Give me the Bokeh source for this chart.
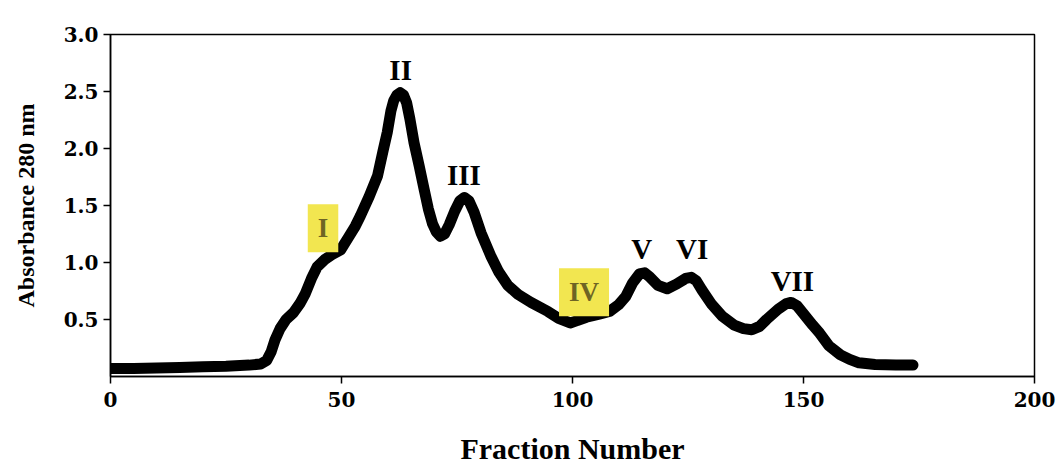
from bokeh.plotting import figure
from bokeh.models import Range1d, FixedTicker, Label, LabelSet, ColumnDataSource
from bokeh.embed import file_html
from bokeh.resources import INLINE

# Absorbance trace (fraction number, absorbance at 280 nm)
fraction = [0, 5, 10, 15, 20, 25, 30, 32.5, 33.8, 34.8, 35.6, 36.7, 38, 39.6, 41, 42.2, 43.5,
            44.7, 46.5, 48, 49.8, 51.5, 53, 54.1, 56, 57.8, 59, 59.9, 60.7, 61.3, 62, 62.7,
            63.4, 64.1, 64.8, 65.7, 66.8, 67.9, 68.8, 69.7, 70.5, 71.4, 72.3, 73.3, 74.5, 75.6, 76.6,
            77.6, 78.7, 80.2, 82.4, 84, 86, 88.2, 91, 94.7, 97, 99.5, 101, 103, 106, 108,
            110, 111.5, 113, 114.5, 115.6, 116.8, 118.5, 120.5, 122.5, 124.5, 125.7, 126.8, 128, 130,
            132.4, 135, 137, 138.8, 140.5, 142, 144.5, 146.3, 147.3, 148.6, 150, 152, 153.5, 155.5, 158,
            160, 162, 165.5, 170, 173.7]
absorbance = [0.07, 0.07, 0.075, 0.08, 0.085, 0.09, 0.10, 0.11, 0.14, 0.22, 0.32, 0.42, 0.50,
              0.56, 0.64, 0.73, 0.86, 0.96, 1.03, 1.07, 1.11, 1.22, 1.32, 1.41, 1.58,
              1.76, 1.98, 2.14, 2.33, 2.42, 2.47, 2.49, 2.47, 2.40, 2.26, 2.05, 1.85, 1.64, 1.47,
              1.34, 1.27, 1.23, 1.25, 1.33, 1.45, 1.54, 1.57, 1.54, 1.44, 1.26, 1.05, 0.92,
              0.80, 0.72, 0.65, 0.57, 0.51, 0.47, 0.49, 0.52, 0.55, 0.57, 0.63, 0.70,
              0.82, 0.90, 0.91, 0.87, 0.80, 0.77, 0.81, 0.86, 0.87, 0.84, 0.76, 0.64,
              0.53, 0.45, 0.42, 0.41, 0.44, 0.50, 0.59, 0.64, 0.65, 0.62, 0.55, 0.45, 0.38,
              0.27, 0.19, 0.15, 0.12, 0.105, 0.10, 0.10]

# Peak labels
peak_names = ["II", "III", "V", "VI", "VII"]
peak_x = [62.8, 76.5, 115.0, 125.9, 147.6]
peak_y = [2.69, 1.77, 1.12, 1.12, 0.84]

highlight_names = ["I", "IV"]
highlight_x = [46.0, 102.5]
highlight_y = [1.30, 0.74]

x_ticks = [0, 50, 100, 150, 200]
y_ticks = [0.5, 1.0, 1.5, 2.0, 2.5, 3.0]

TITLE_FONT = "Liberation Serif"
MARK_FONT = "DejaVu Serif"

p = figure(width=1060, height=468, output_backend="svg", toolbar_location=None,
           x_range=Range1d(0, 200), y_range=Range1d(0, 3.0),
           min_border_left=110, min_border_right=26, min_border_top=34, min_border_bottom=92)
p.background_fill_color = "white"
p.border_fill_color = "white"
p.outline_line_color = "black"
p.outline_line_width = 1.5
p.grid.visible = False

p.line(fraction, absorbance, line_color="black", line_width=11,
       line_join="round", line_cap="round")

src = ColumnDataSource(dict(x=peak_x, y=peak_y, t=peak_names))
p.add_layout(LabelSet(x="x", y="y", text="t", source=src, text_align="center",
                      text_baseline="middle", text_font=TITLE_FONT, text_font_style="bold",
                      text_font_size="29px", text_color="black"))

for name, hx, hy in zip(highlight_names, highlight_x, highlight_y):
    p.add_layout(Label(x=hx, y=hy, text=name, text_align="center", text_baseline="middle",
                       text_font=TITLE_FONT, text_font_style="bold", text_font_size="27px",
                       text_color="#6e6424", background_fill_color="#f2e650",
                       padding=(10, 9)))

for ax in (p.xaxis[0], p.yaxis[0]):
    ax.axis_line_width = 1.5
    ax.axis_line_color = "black"
    ax.major_tick_line_color = "black"
    ax.major_tick_line_width = 1.5
    ax.major_tick_in = 0
    ax.major_tick_out = 7
    ax.minor_tick_line_color = None
    ax.major_label_text_font = MARK_FONT
    ax.major_label_text_font_style = "bold"
    ax.major_label_text_font_size = "20px"
    ax.major_label_text_color = "black"
    ax.axis_label_text_font = TITLE_FONT
    ax.axis_label_text_font_style = "bold"
    ax.axis_label_text_color = "black"

p.xaxis.ticker = FixedTicker(ticks=x_ticks)
p.yaxis.ticker = FixedTicker(ticks=y_ticks)
p.yaxis.major_label_overrides = {v: f"{v:.1f}" for v in y_ticks}
p.xaxis.major_label_standoff = 8
p.yaxis.major_label_standoff = 5

p.xaxis.axis_label = "Fraction Number"
p.xaxis.axis_label_text_font_size = "30px"
p.xaxis.axis_label_standoff = 22
p.yaxis.axis_label = "Absorbance 280 nm"
p.yaxis.axis_label_text_font_size = "24px"
p.yaxis.axis_label_standoff = 22

open("out.html", "w").write(file_html(p, INLINE))
